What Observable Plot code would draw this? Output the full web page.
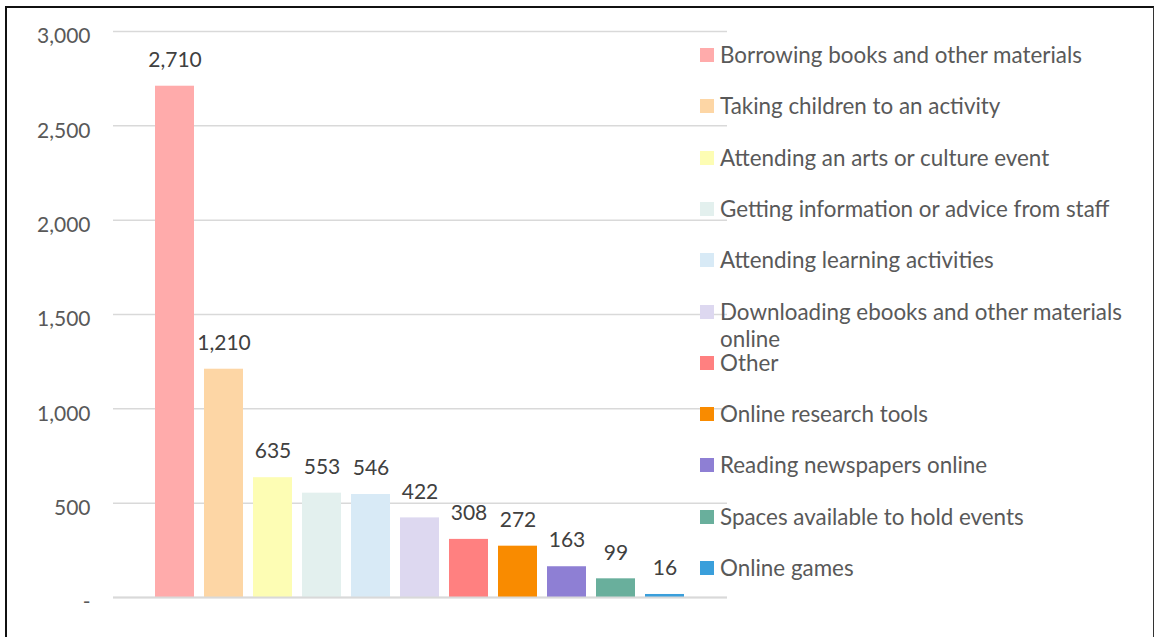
<!DOCTYPE html>
<html>
<head>
<meta charset="utf-8">
<script src="https://cdn.jsdelivr.net/npm/d3@7"></script>
<script src="https://cdn.jsdelivr.net/npm/@observablehq/plot@0.6"></script>
<style>
  html, body { margin: 0; padding: 0; background: #fff; }
  #wrap { position: relative; width: 1158px; height: 637px; overflow: hidden; font-family: Lato, "Open Sans", sans-serif; }
  #border { position: absolute; left: 5px; top: 6px; width: 1149px; height: 660px; border-top: 2px solid #111; border-left: 2px solid #111; border-right: 1px solid #333; box-sizing: border-box; pointer-events: none; }
  #chart { position: absolute; left: 0; top: 0; }
  #legend { position: absolute; left: 700px; top: 0; }
  .row { position: absolute; left: 0; display: flex; align-items: flex-start; color: #595959; font-size: 22.4px; line-height: 27px; }
  .sw { width: 14px; height: 14px; margin-top: 7px; margin-right: 6px; flex: none; }
  .lab { width: 420px; }
</style>
</head>
<body>
<div id="wrap">
  <div id="chart"></div>
  <div id="legend"></div>
  <div id="border"></div>
</div>
<script>
const categories = [
  "Borrowing books and other materials",
  "Taking children to an activity",
  "Attending an arts or culture event",
  "Getting information or advice from staff",
  "Attending learning activities",
  "Downloading ebooks and other materials online",
  "Other",
  "Online research tools",
  "Reading newspapers online",
  "Spaces available to hold events",
  "Online games"
];
const values = [2710, 1210, 635, 553, 546, 422, 308, 272, 163, 99, 16];
const colors = ["#FFABAB", "#FDD6A5", "#FDFDB4", "#E3F0EE", "#D8EAF6", "#DDD8F0", "#FF8080", "#F98B00", "#8E7FD4", "#69AF9C", "#3A9FDB"];
const yTicks = [0, 500, 1000, 1500, 2000, 2500, 3000];

const data = categories.map((c, i) => ({cat: c, value: values[i]}));
const fmt = d3.format(",");

const chart = Plot.plot({
  width: 1158,
  height: 637,
  marginLeft: 113,
  marginRight: 431,
  marginTop: 31,
  marginBottom: 40,
  style: {fontFamily: "Lato, 'Open Sans', sans-serif", background: "transparent"},
  x: {domain: categories, axis: null, paddingInner: 0.204, paddingOuter: 0.86},
  y: {domain: [0, 3000], axis: null, label: null},
  color: {domain: categories, range: colors},
  marks: [
    Plot.gridY(yTicks, {stroke: "#D9D9D9", strokeOpacity: 1, strokeWidth: 1.5}),
    Plot.axisY(yTicks, {
      tickSize: 0, tickPadding: 23, label: null,
      tickFormat: d => d === 0 ? "-" : fmt(d),
      fontSize: 21, fill: "#595959", dy: 5
    }),
    Plot.barY(data, {x: "cat", y: "value", fill: "cat"}),
    Plot.ruleY([0], {stroke: "#D9D9D9", strokeWidth: 2}),
    Plot.text(data, {x: "cat", y: "value", text: d => fmt(d.value), dy: -26, fontSize: 21, fill: "#404040"})
  ]
});
document.getElementById("chart").appendChild(chart);

const legend = document.getElementById("legend");
categories.forEach((c, i) => {
  const row = document.createElement("div");
  row.className = "row";
  row.style.top = (54.5 - 13.5 + i * 51.3) + "px";
  const sw = document.createElement("div");
  sw.className = "sw";
  sw.style.background = colors[i];
  const lab = document.createElement("div");
  lab.className = "lab";
  lab.textContent = c;
  row.appendChild(sw);
  row.appendChild(lab);
  legend.appendChild(row);
});
</script>
</body>
</html>
